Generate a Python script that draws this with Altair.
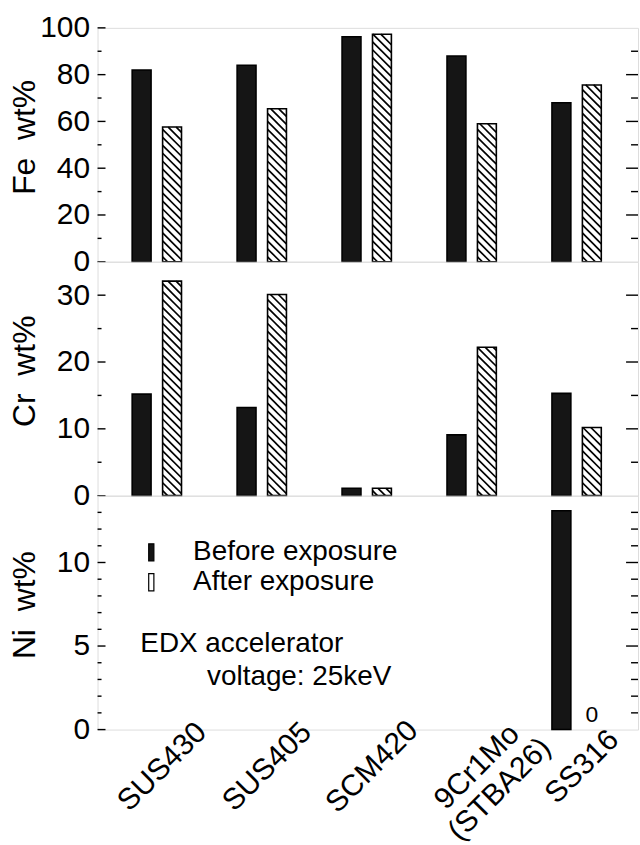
import json
import altair as alt
import pandas as pd

# ---------------- data ----------------
materials = ["SUS430", "SUS405", "SCM420", "9Cr1Mo\n(STBA26)", "SS316"]
series_names = ["Before exposure", "After exposure"]

fe_before = [82.0, 84.0, 96.2, 88.0, 68.0]
fe_after = [57.6, 65.4, 97.3, 59.0, 75.6]
cr_before = [15.2, 13.2, 1.1, 9.1, 15.3]
cr_after = [32.1, 30.1, 1.1, 22.2, 10.2]
ni_before = [None, None, None, None, 13.1]
ni_after = [None, None, None, None, 0.0]

fe_major = [0, 20, 40, 60, 80, 100]
fe_minor = [10, 30, 50, 70, 90]
cr_major = [0, 10, 20, 30]
cr_minor = [5, 15, 25]
ni_major = [0, 5, 10]
ni_minor = [1, 2, 3, 4, 6, 7, 8, 9, 11, 12, 13]

annotation_lines = ["EDX accelerator", "voltage: 25keV"]

# ---------------- layout / style ----------------
FONT = "Liberation Sans"
W, H = 543, 235
X_DOMAIN = [-0.565, 4.585]
PXU = W / (X_DOMAIN[1] - X_DOMAIN[0])
OFF = 0.145
HALF = 0.09
BW = 2 * HALF * PXU
HATCH = 8.0
NB = "\u00a0"

label_list = [m.split("\n") if "\n" in m else m for m in materials]
label_expr = json.dumps(label_list) + "[datum.value]"


def long_table(before, after):
    rows = []
    for i, m in enumerate(materials):
        for s, vals in zip(series_names, (before, after)):
            v = vals[i]
            if v is None:
                continue
            rows.append({"idx": i, "material": m, "series": s, "value": v})
    return pd.DataFrame(rows)


legend = alt.Legend(
    orient="none", legendX=40, legendY=513, title=None, direction="vertical",
    symbolType="M-0.3,-1H0.3V1H-0.3Z", symbolSize=300,
    symbolStrokeColor="black", symbolStrokeWidth=1.2,
    labelFontSize=28, labelFont=FONT, labelColor="black", labelOffset=28,
    rowPadding=2, padding=0, labelLimit=400,
)


def panel(before, after, ymax, major, minor, right_major, right_minor, title, show_x, extra=None):
    df = long_table(before, after)
    xscale = alt.Scale(domain=X_DOMAIN, nice=False, zero=False)
    yscale = alt.Scale(domain=[0, ymax], nice=False, zero=True)
    if show_x:
        xaxis = alt.Axis(values=list(range(len(materials))), labelExpr=label_expr,
                         labelAngle=315, labelAlign="center", labelBaseline="middle",
                         labelPadding=37, labelOffset=5, ticks=False, domain=False, grid=False,
                         labelFontSize=30, labelFont=FONT, labelColor="black",
                         labelLineHeight=32, labelOverlap=False, labelFlush=False,
                         labelBound=False, title=None)
    else:
        xaxis = None
    yaxis = alt.Axis(values=major, ticks=False, domain=False, grid=False,
                     labelFontSize=30, labelFont=FONT, labelColor="black", labelPadding=8,
                     labelOverlap=False, labelFlush=False,
                     title=title, titleFontSize=32, titleFont=FONT, titleFontWeight="normal",
                     titleColor="black", titleX=-56, titleY=H / 2 - 8)
    side = f"(datum.series == '{series_names[0]}' ? -{OFF} : {OFF})"
    bars = alt.Chart(df).transform_filter("datum.value > 0").transform_calculate(
        xa=f"datum.idx + {side} - {HALF}",
        xb=f"datum.idx + {side} + {HALF}",
        base="0",
    ).mark_bar(stroke="black", strokeWidth=1.6).encode(
        x=alt.X("xa:Q", scale=xscale, axis=xaxis),
        x2="xb:Q",
        y=alt.Y("value:Q", scale=yscale, axis=yaxis),
        y2="base:Q",
        fill=alt.Fill("series:N", scale=alt.Scale(domain=series_names, range=["#151515", "white"]),
                      legend=legend),
    )
    pu = H / ymax
    hatch = alt.Chart(df).transform_filter(
        f"datum.series == '{series_names[1]}' && datum.value > 0"
    ).transform_calculate(
        hp=f"datum.value * {pu}",
    ).transform_calculate(
        ks=f"sequence(1, floor((datum.hp + {BW}) / {HATCH}) + 1)",
    ).transform_flatten(["ks"], as_=["k"]).transform_calculate(
        ylp=f"datum.k * {HATCH} - 3",
    ).transform_calculate(
        xlpx=f"max(0, datum.ylp - datum.hp)",
        ylpx=f"min(datum.ylp, datum.hp)",
        xrpx=f"min({BW}, datum.ylp)",
        yrpx=f"max(0, datum.ylp - {BW})",
    ).transform_filter("datum.xlpx < datum.xrpx").transform_calculate(
        ha=f"datum.idx + {OFF} - {HALF} + datum.xlpx / {PXU}",
        hb=f"datum.idx + {OFF} - {HALF} + datum.xrpx / {PXU}",
        va=f"datum.ylpx / {pu}",
        vb=f"datum.yrpx / {pu}",
    ).mark_rule(color="black", strokeWidth=1.7).encode(
        x=alt.X("ha:Q", scale=xscale, axis=xaxis),
        x2="hb:Q",
        y=alt.Y("va:Q", scale=yscale, axis=yaxis),
        y2="vb:Q",
    )

    def ticks(vals, x1, x2):
        return alt.Chart(pd.DataFrame({"value": vals})).mark_rule(
            color="black", strokeWidth=1.4).encode(
            y=alt.Y("value:Q", scale=yscale, axis=yaxis),
            x=alt.value(x1), x2=alt.value(x2))

    layers = [bars, hatch,
              ticks(major, 0, 8), ticks(minor, 0, 4),
              ticks(right_major, W, W - 12), ticks(right_minor, W, W - 7)]
    if extra:
        layers += extra(df, xscale, yscale, xaxis, yaxis)
    return alt.layer(*layers).properties(width=W, height=H)


def ni_extra(df, xscale, yscale, xaxis, yaxis):
    zero_txt = alt.Chart(df).transform_filter(
        f"datum.series == '{series_names[1]}' && datum.value == 0"
    ).transform_calculate(xc=f"datum.idx + {OFF}").mark_text(
        baseline="alphabetic", align="center", dy=-8, fontSize=23, font=FONT, color="black"
    ).encode(
        x=alt.X("xc:Q", scale=xscale, axis=xaxis),
        y=alt.Y("value:Q", scale=yscale, axis=yaxis),
        text=alt.Text("value:Q", format="d"),
    )
    t1 = alt.Chart(pd.DataFrame({"t": [annotation_lines[0]]})).mark_text(
        align="left", baseline="alphabetic", fontSize=28, font=FONT, color="black"
    ).encode(x=alt.value(43), y=alt.value(157), text="t:N")
    t2 = alt.Chart(pd.DataFrame({"t": [annotation_lines[1]]})).mark_text(
        align="left", baseline="alphabetic", fontSize=28, font=FONT, color="black"
    ).encode(x=alt.value(110), y=alt.value(190), text="t:N")
    return [zero_txt, t1, t2]


fe = panel(fe_before, fe_after, 100, fe_major, fe_minor,
           [20, 40, 60, 80], [10, 30, 50, 70, 90], f"Fe{NB}{NB}wt%", False)
cr = panel(cr_before, cr_after, 35, cr_major, cr_minor,
           [10, 20, 30], [5, 15, 25], f"Cr{NB}{NB}wt%", False)
ni = panel(ni_before, ni_after, 14, ni_major, ni_minor,
           [5, 10], [1, 2, 3, 4, 6, 7, 8, 9, 11, 12, 13], f"Ni{NB}{NB}wt%", True, ni_extra)

chart = alt.vconcat(fe, cr, ni, spacing=0, bounds="flush").properties(
    padding={"left": 8, "top": 10, "right": 0, "bottom": 0}
).configure_view(stroke="black", strokeWidth=2).configure(background="white")

chart.save("out.html", embed_options={"renderer": "svg", "actions": False})
